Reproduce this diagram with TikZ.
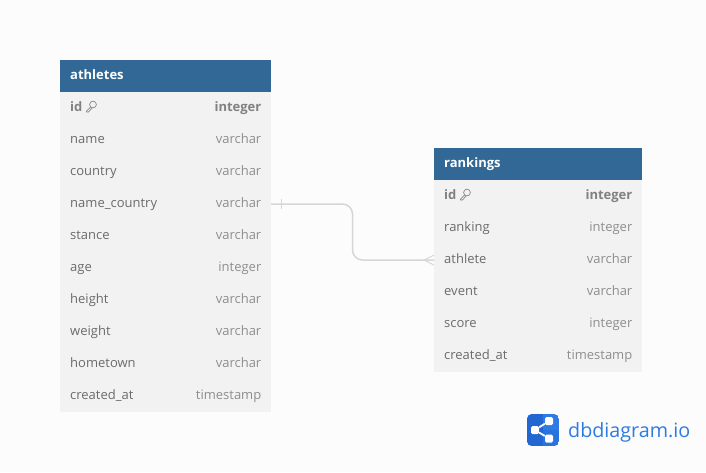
\documentclass[tikz,border=0pt]{standalone}
\usepackage{fontspec}
\setmainfont{Open Sans}
\definecolor{headblue}{HTML}{316896}
\definecolor{rowgrey}{HTML}{F2F2F2}
\definecolor{pagegrey}{HTML}{FCFCFD}
\definecolor{linegrey}{HTML}{D6D6D6}
\definecolor{fieldgrey}{HTML}{6B6B6B}
\definecolor{typegrey}{HTML}{8E8E8E}
\definecolor{logoblue}{HTML}{2F7BE6}
\definecolor{logomid}{HTML}{2A72DE}
\definecolor{logodark}{HTML}{2166D1}
\definecolor{wordblue}{HTML}{2D7BDF}
\tikzset{
  headbox/.style={shape=rectangle, fill=headblue, minimum height=32pt, inner sep=0pt, outer sep=0pt},
  rowbox/.style={shape=rectangle, fill=rowgrey, minimum height=32pt, inner sep=0pt, outer sep=0pt},
  headtext/.style={anchor=base west, inner sep=0pt, text=white, font=\fontsize{13}{15}\selectfont\bfseries},
  fieldtext/.style={anchor=base west, inner sep=0pt, text=fieldgrey, font=\fontsize{13}{15}\selectfont},
  typetext/.style={anchor=base east, inner sep=0pt, text=typegrey, font=\fontsize{13}{15}\selectfont},
  keytext/.style={anchor=base west, inner sep=0pt, text=fieldgrey!85, font=\fontsize{13}{15}\selectfont\bfseries},
  keytype/.style={anchor=base east, inner sep=0pt, text=fieldgrey!85, font=\fontsize{13}{15}\selectfont\bfseries},
  keyicon/.style={draw=fieldgrey!80, line width=0.7pt},
  relline/.style={draw=linegrey, line width=1.5pt, rounded corners=10pt},
  relmark/.style={draw=linegrey, line width=0.9pt},
  logodot/.style={shape=rectangle, rounded corners=1.5pt, fill=white, minimum size=8pt, inner sep=0pt}
}
\begin{document}
\begin{tikzpicture}[x=1pt, y=-1pt]
    \useasboundingbox [fill=pagegrey] (0, 0) rectangle (706, 472);

    % athletes
    \pgfmathsetmacro{\xa}{165.5};
    \pgfmathsetmacro{\wa}{211};
    \pgfmathsetmacro{\la}{70};
    \pgfmathsetmacro{\ra}{261.5};
    \node (athletes) [headbox, minimum width=\wa pt] at (\xa, 76) {};
    \node (a1) [rowbox, minimum width=\wa pt] at (\xa, 108) {};
    \node (a2) [rowbox, minimum width=\wa pt] at (\xa, 140) {};
    \node (a3) [rowbox, minimum width=\wa pt] at (\xa, 172) {};
    \node (a4) [rowbox, minimum width=\wa pt] at (\xa, 204) {};
    \node (a5) [rowbox, minimum width=\wa pt] at (\xa, 236) {};
    \node (a6) [rowbox, minimum width=\wa pt] at (\xa, 268) {};
    \node (a7) [rowbox, minimum width=\wa pt] at (\xa, 300) {};
    \node (a8) [rowbox, minimum width=\wa pt] at (\xa, 332) {};
    \node (a9) [rowbox, minimum width=\wa pt] at (\xa, 364) {};
    \node (a10) [rowbox, minimum width=\wa pt] at (\xa, 396) {};

    \node [headtext] at (\la, 79) {athletes};
    \node (idA) [keytext] at (\la, 111) {id};
    \node [keytype] at (\ra, 111) {integer};
    \node [fieldtext] at (\la, 143) {name};
    \node [typetext] at (\ra, 143) {varchar};
    \node [fieldtext] at (\la, 175) {country};
    \node [typetext] at (\ra, 175) {varchar};
    \node [fieldtext] at (\la, 207) {name\_country};
    \node [typetext] at (\ra, 207) {varchar};
    \node [fieldtext] at (\la, 239) {stance};
    \node [typetext] at (\ra, 239) {varchar};
    \node [fieldtext] at (\la, 271) {age};
    \node [typetext] at (\ra, 271) {integer};
    \node [fieldtext] at (\la, 303) {height};
    \node [typetext] at (\ra, 303) {varchar};
    \node [fieldtext] at (\la, 335) {weight};
    \node [typetext] at (\ra, 335) {varchar};
    \node [fieldtext] at (\la, 367) {hometown};
    \node [typetext] at (\ra, 367) {varchar};
    \node [fieldtext] at (\la, 399) {created\_at};
    \node [typetext] at (\ra, 399) {timestamp};

    % rankings
    \pgfmathsetmacro{\xr}{538};
    \pgfmathsetmacro{\wr}{208};
    \pgfmathsetmacro{\lr}{444};
    \pgfmathsetmacro{\rr}{632.5};
    \node (rankings) [headbox, minimum width=\wr pt] at (\xr, 164) {};
    \node (r1) [rowbox, minimum width=\wr pt] at (\xr, 196) {};
    \node (r2) [rowbox, minimum width=\wr pt] at (\xr, 228) {};
    \node (r3) [rowbox, minimum width=\wr pt] at (\xr, 260) {};
    \node (r4) [rowbox, minimum width=\wr pt] at (\xr, 292) {};
    \node (r5) [rowbox, minimum width=\wr pt] at (\xr, 324) {};
    \node (r6) [rowbox, minimum width=\wr pt] at (\xr, 356) {};

    \node [headtext] at (\lr, 167) {rankings};
    \node (idR) [keytext] at (\lr, 199) {id};
    \node [keytype] at (\rr, 199) {integer};
    \node [fieldtext] at (\lr, 231) {ranking};
    \node [typetext] at (\rr, 231) {integer};
    \node [fieldtext] at (\lr, 263) {athlete};
    \node [typetext] at (\rr, 263) {varchar};
    \node [fieldtext] at (\lr, 295) {event};
    \node [typetext] at (\rr, 295) {varchar};
    \node [fieldtext] at (\lr, 327) {score};
    \node [typetext] at (\rr, 327) {integer};
    \node [fieldtext] at (\lr, 359) {created\_at};
    \node [typetext] at (\rr, 359) {timestamp};

    % key icons
    \draw [keyicon] (93, 104.5) circle (3.4);
    \draw [keyicon] (90.6, 106.9) -- (86.5, 111) -- (86.5, 112) -- (88.5, 112) -- (92, 108);
    \draw [keyicon] (467, 192.5) circle (3.4);
    \draw [keyicon] (464.6, 194.9) -- (460.5, 199) -- (460.5, 200) -- (462.5, 200) -- (466, 196);

    % relation
    \draw [relline] (a4.east) -- (352.5, 204) -- (352.5, 260) -- (r3.west);
    \draw [relmark] (a4.east) ++(10, -5) -- ++(0, 10);
    \draw [relmark] (r3.west) ++(0, -5) -- ++(-10, 5) -- ++(10, 5);

    % logo
    \begin{scope}
      \clip [rounded corners=5pt] (527, 414) rectangle (559, 446);
      \fill [logoblue] (527, 414) rectangle (559, 446);
      \fill [logomid] (543, 430) rectangle (559, 446);
      \fill [logodark] (527, 414) rectangle (543, 446);
    \end{scope}
    \node (hub) [logodot] at (535, 430) {};
    \node (top) [logodot] at (549, 421) {};
    \node (low) [logodot] at (549, 438.5) {};
    \draw [white, line width=1.8pt] (hub) -- (top);
    \draw [white, line width=1.8pt] (hub) -- (low);
    \node [anchor=base west, inner sep=0pt, text=wordblue, font=\fontsize{19.7}{24}\selectfont] at (568, 437) {dbdiagram.io};
\end{tikzpicture}
\end{document}
